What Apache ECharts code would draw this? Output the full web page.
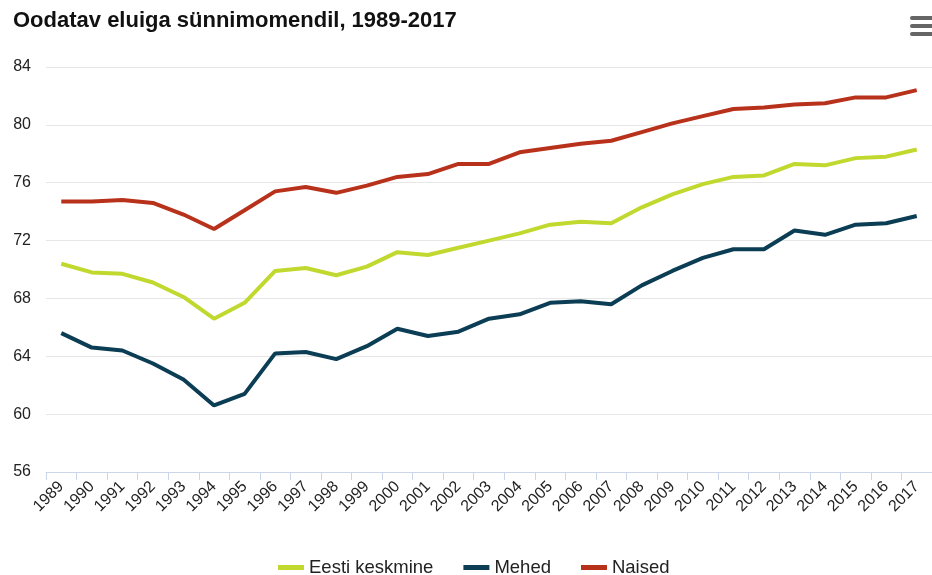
<!DOCTYPE html>
<html>
<head>
<meta charset="utf-8">
<script src="https://cdn.jsdelivr.net/npm/echarts@6/dist/echarts.min.js"></script>
<style>
  html, body { margin: 0; padding: 0; background: #fff; }
  #chart { width: 932px; height: 575px; }
</style>
</head>
<body>
<div id="chart"></div>
<script>
// aastad + kolm rida (loetud pildilt)
var years = ['1989', '1990', '1991', '1992', '1993', '1994', '1995', '1996', '1997', '1998',
  '1999', '2000', '2001', '2002', '2003', '2004', '2005', '2006', '2007', '2008',
  '2009', '2010', '2011', '2012', '2013', '2014', '2015', '2016', '2017'];
var keskmine = [70.4, 69.8, 69.7, 69.1, 68.1, 66.6, 67.7, 69.9, 70.1, 69.6,
  70.2, 71.2, 71.0, 71.5, 72.0, 72.5, 73.1, 73.3, 73.2, 74.3,
  75.2, 75.9, 76.4, 76.5, 77.3, 77.2, 77.7, 77.8, 78.3];
var mehed = [65.6, 64.6, 64.4, 63.5, 62.4, 60.6, 61.4, 64.2, 64.3, 63.8,
  64.7, 65.9, 65.4, 65.7, 66.6, 66.9, 67.7, 67.8, 67.6, 68.9,
  69.9, 70.8, 71.4, 71.4, 72.7, 72.4, 73.1, 73.2, 73.7];
var naised = [74.7, 74.7, 74.8, 74.6, 73.8, 72.8, 74.1, 75.4, 75.7, 75.3,
  75.8, 76.4, 76.6, 77.3, 77.3, 78.1, 78.4, 78.7, 78.9, 79.5,
  80.1, 80.6, 81.1, 81.2, 81.4, 81.5, 81.9, 81.9, 82.4];
var yTicks = { min: 56, max: 84, step: 4 };

var colors = { keskmine: '#c1d82f', mehed: '#0b3d54', naised: '#b8321b' };
var font = 'Liberation Sans, Arial, sans-serif';

var chart = echarts.init(document.getElementById('chart'));

function line(name, data, color) {
  return {
    name: name, type: 'line', data: data,
    symbol: 'none', smooth: false,
    lineStyle: { width: 4, color: color },
    itemStyle: { color: color }
  };
}

chart.setOption({
  animation: false,
  textStyle: { fontFamily: font },
  title: {
    text: 'Oodatav eluiga sünnimomendil, 1989-2017',
    left: 8, top: 5,
    textStyle: { fontSize: 22, fontWeight: 'bold', color: '#111', fontFamily: font }
  },
  legend: {
    top: 553, left: 273,
    icon: 'rect', itemWidth: 26, itemHeight: 5, itemGap: 30,
    textStyle: { fontSize: 18.5, color: '#222', padding: [0, 0, 0, 0] },
    data: ['Eesti keskmine', 'Mehed', 'Naised']
  },
  grid: { left: 46, right: -9, top: 67, bottom: 103, containLabel: false },
  xAxis: {
    type: 'category', data: years, boundaryGap: true,
    axisLine: { lineStyle: { color: '#ccd6eb', width: 1 } },
    axisTick: { show: true, length: 8, lineStyle: { color: '#ccd6eb' } },
    axisLabel: { interval: 0, rotate: 45, fontSize: 16, color: '#222', margin: 12 },
    splitLine: { show: false }
  },
  yAxis: {
    type: 'value', min: yTicks.min, max: yTicks.max, interval: yTicks.step,
    axisLine: { show: false }, axisTick: { show: false },
    axisLabel: { fontSize: 16, color: '#222', margin: 15 },
    splitLine: { lineStyle: { color: '#e6e6e6', width: 1 } }
  },
  series: [
    line('Eesti keskmine', keskmine, colors.keskmine),
    line('Mehed', mehed, colors.mehed),
    line('Naised', naised, colors.naised)
  ],
  // menüü ikoon paremas ülanurgas
  graphic: [0, 1, 2].map(function (i) {
    return {
      type: 'rect', left: 910, top: 16 + i * 8,
      shape: { width: 24, height: 4, r: 2 },
      style: { fill: '#666' }
    };
  })
});
</script>
</body>
</html>
